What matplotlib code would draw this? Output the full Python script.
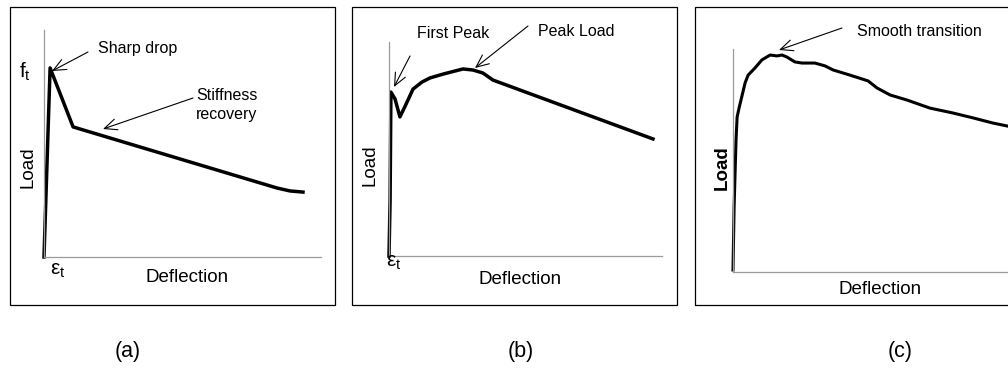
import numpy as np
import matplotlib.pyplot as plt
from matplotlib.patches import Rectangle

plt.rcParams['font.family'] = ['Liberation Sans', 'DejaVu Sans']
plt.rcParams['mathtext.fontset'] = 'custom'
plt.rcParams['mathtext.rm'] = 'Liberation Sans'
plt.rcParams['mathtext.it'] = 'Liberation Sans'

# (a) sharp drop then linear softening
defl_a = [0, 2.2, 10.5, 84.1, 88.8, 93.5]
load_a = [0, 83.3, 57.3, 30.4, 29.1, 28.6]

# (b) first peak, dip, then peak load
defl_b = [0, 0.4, 0.7, 2.2, 4.0, 5.9, 8.8, 12.1, 15.0, 19.8, 27.1, 30.8, 34.4, 38.1, 96.7]
load_b = [0, 26, 76.6, 73.4, 65, 70, 78, 81.3, 83.2, 85, 87.4, 86.9, 85.5, 82.2, 54.7]

# (c) smooth transition
defl_c = [0, 0.4, 1.1, 1.5, 2.2, 2.9, 4.4, 5.5, 8.0, 10.5, 13.5, 16.0, 17.8, 19.6,
          22.5, 25.1, 29.8, 33.5, 36.4, 42.5, 49.1, 52.4, 57.1, 63.3, 71.6, 80.0,
          87.3, 94.5, 99.6]
load_c = [0.9, 29.1, 59.2, 69.5, 73.5, 77.1, 84.8, 88.3, 91.5, 95.1, 97.3, 96.9,
          97.3, 96.4, 94.2, 93.7, 93.7, 92.4, 90.6, 88.3, 85.7, 82.5, 79.4, 77.1,
          73.5, 71.3, 69.1, 66.8, 65.5]

panel_labels = ['(a)', '(b)', '(c)']

W, H = 1008, 370
fig = plt.figure(figsize=(W / 100, H / 100), dpi=100)


def fx(px):
	return px / W


def fy(py):
	return 1 - py / H


def panel(left, right, top, bottom):
	ax = fig.add_axes([fx(left), fy(bottom), (right - left) / W, (bottom - top) / H])
	ax.set_xlim(0, 100)
	ax.set_ylim(0, 100)
	ax.set_xticks([])
	ax.set_yticks([])
	ax.spines['top'].set_visible(False)
	ax.spines['right'].set_visible(False)
	for s in ['left', 'bottom']:
		ax.spines[s].set_color('#9a9a9a')
		ax.spines[s].set_linewidth(0.9)
	ax.patch.set_alpha(0)
	return ax


def border(left, right):
	fig.patches.append(Rectangle((fx(left), fy(305)), (right - left) / W, (305 - 7) / H,
		transform=fig.transFigure, fill=False, edgecolor='black', lw=0.9))


def arrow(tail, head):
	fig.add_artist(plt.Annotation('', xy=(fx(head[0]), fy(head[1])), xycoords='figure fraction',
		xytext=(fx(tail[0]), fy(tail[1])), textcoords='figure fraction',
		arrowprops=dict(arrowstyle='->,head_length=0.9,head_width=0.4', lw=0.8, color='black',
			shrinkA=0, shrinkB=0)))


def txt(px, py, s, **kw):
	fig.text(fx(px), fy(py), s, **kw)


border(10, 335)
border(352, 677)
border(695, 1020)

# panel (a)
ax = panel(44, 321, 30, 257)
ax.plot(defl_a, load_a, color='black', lw=2.5, clip_on=False)
txt(98, 49, 'Sharp drop', fontsize=11.5, va='center')
arrow((88, 52), (52, 71))
txt(196, 105, 'Stiffness\nrecovery', fontsize=11.5, va='center', linespacing=1.25)
arrow((193, 98), (103, 129))
txt(25, 72, r'$\mathrm{f_t}$', fontsize=15, ha='center', va='center')
txt(58, 270, r'$\mathrm{ε_t}$', fontsize=15, ha='center', va='center')
txt(187, 277, 'Deflection', fontsize=13.5, ha='center', va='center')
txt(28, 167, 'Load', fontsize=13.5, rotation=90, ha='center', va='center')

# panel (b)
ax = panel(389, 662, 42, 256)
ax.plot(defl_b, load_b, color='black', lw=2.5, clip_on=False)
txt(417, 33, 'First Peak', fontsize=11.5, va='center')
arrow((410, 56), (394, 87))
txt(538, 32, 'Peak Load', fontsize=11.5, va='center')
arrow((528, 26), (475, 68))
txt(394, 263, r'$\mathrm{ε_t}$', fontsize=15, ha='center', va='center')
txt(520, 280, 'Deflection', fontsize=13.5, ha='center', va='center')
txt(370, 165, 'Load', fontsize=13.5, rotation=90, ha='center', va='center')

# panel (c)
ax = panel(733, 1008, 49, 272)
ax.plot(defl_c, load_c, color='black', lw=2.2, clip_on=False)
txt(857, 32, 'Smooth transition', fontsize=11.5, va='center')
arrow((842, 28), (779, 50))
txt(880, 290, 'Deflection', fontsize=13.5, ha='center', va='center')
txt(722, 168, 'Load', fontsize=13.5, fontweight='bold', rotation=90, ha='center', va='center')

for lab, cx in zip(panel_labels, [128, 521, 900]):
	txt(cx, 352, lab, fontsize=15.5, ha='center', va='center')

fig.savefig('out.png', dpi=100)
